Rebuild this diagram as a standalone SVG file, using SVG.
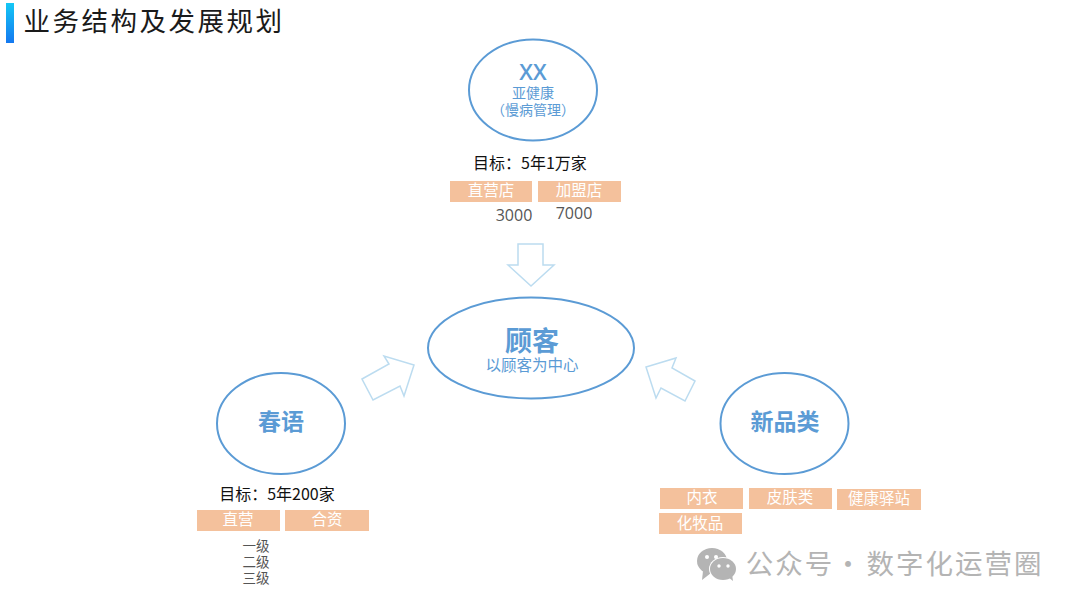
<svg xmlns="http://www.w3.org/2000/svg" width="1080" height="608" viewBox="0 0 1080 608">
<defs>
<linearGradient id="bar" x1="0" y1="0" x2="0" y2="1"><stop offset="0" stop-color="#14c8f5"/><stop offset="1" stop-color="#1478f0"/></linearGradient>
</defs>
<style>
text{font-family:"Noto Sans CJK SC","Liberation Sans",sans-serif;text-anchor:middle}
.el{fill:#fff;stroke:#5b9bd5;stroke-width:2}
.big{fill:#5b9bd5;font-weight:700;font-size:23px}
.sub{fill:#5b9bd5;font-size:14px}
.tag{fill:#f4c19c}
.tt{fill:#fff;font-size:15.500px}
.goal{fill:#111;font-size:16px}
.num{fill:#555;font-size:16px;font-family:"Open Sans","Liberation Sans",sans-serif}
.lv{fill:#555;font-size:13.500px}
.arr{fill:#fff;stroke:#bcdcf0;stroke-width:1.500}
.wm{fill:#b4b4b4}
</style>
<rect width="1080" height="608" fill="#fff"/>
<rect x="6" y="3" width="8" height="40" fill="url(#bar)"/>
<text x="154" y="31" font-size="26.500" letter-spacing="2.500" fill="#1a1a1a">业务结构及发展规划</text>
<g id="connectors">
<path class="arr" d="M518 244H543V265H554L531 286 508 265H518Z"/>
<path class="arr" d="M362 379L389 364 384 356 414 365 404 396 400 386 373 400Z"/>
<path class="arr" d="M695 381L672 368 676 358 646 367 656 398 661 388 685 401Z"/>
</g>
<g id="node-xx">
<ellipse class="el" cx="533" cy="90" rx="64" ry="50.500"/>
<text x="533" y="80" fill="#5b9bd5" font-size="22" font-weight="600" style="font-family:'Open Sans','Liberation Sans',sans-serif">XX</text>
<text class="sub" x="533" y="98">亚健康</text>
<text class="sub" x="533" y="115">（慢病管理）</text>
<text class="goal" x="530" y="169">目标：5年1万家</text>
<rect class="tag" x="450" y="181" width="82" height="21"/>
<rect class="tag" x="538" y="181" width="83" height="21"/>
<text class="tt" x="491" y="196">直营店</text>
<text class="tt" x="579" y="196">加盟店</text>
<text class="num" x="514" y="221">3000</text>
<text class="num" x="574" y="219">7000</text>
</g>
<g id="node-center">
<ellipse class="el" cx="531" cy="348" rx="103" ry="50.500"/>
<text x="532" y="351" fill="#5b9bd5" font-weight="700" font-size="27">顾客</text>
<text x="532" y="371" fill="#5b9bd5" font-size="15.500">以顾客为中心</text>
</g>
<g id="node-chunyu">
<ellipse class="el" cx="281" cy="423.500" rx="64" ry="50.500"/>
<text class="big" x="281" y="430">春语</text>
<text class="goal" x="277" y="500">目标：5年200家</text>
<rect class="tag" x="197" y="510" width="83" height="21"/>
<rect class="tag" x="285" y="510" width="84" height="21"/>
<text class="tt" x="238" y="525">直营</text>
<text class="tt" x="327" y="525">合资</text>
<text class="lv" x="256" y="551">一级</text>
<text class="lv" x="256" y="567">二级</text>
<text class="lv" x="256" y="583">三级</text>
</g>
<g id="node-new">
<ellipse class="el" cx="784.500" cy="423.500" rx="64" ry="50.500"/>
<text class="big" x="785" y="430">新品类</text>
<rect class="tag" x="660" y="488" width="83" height="21"/>
<rect class="tag" x="749" y="488" width="83" height="21"/>
<rect class="tag" x="837" y="489" width="84" height="21"/>
<rect class="tag" x="659" y="513" width="83" height="21"/>
<text class="tt" x="702" y="503">内衣</text>
<text class="tt" x="790" y="503">皮肤类</text>
<text class="tt" x="879" y="504">健康驿站</text>
<text class="tt" x="700" y="529">化牧品</text>
</g>
<g id="watermark">
<ellipse class="wm" cx="712" cy="561" rx="15" ry="13"/>
<path class="wm" d="M703 571L702 580 711 573Z"/>
<ellipse cx="723" cy="569" rx="14" ry="12" fill="#fff"/>
<ellipse class="wm" cx="723" cy="569" rx="13" ry="11"/>
<path class="wm" d="M728 577L733 581 732 574Z"/>
<circle cx="707" cy="557" r="2" fill="#fff"/><circle cx="716" cy="557" r="2" fill="#fff"/>
<circle cx="719" cy="566" r="1.700" fill="#fff"/><circle cx="728" cy="566" r="1.700" fill="#fff"/>
<text class="wm" x="790" y="574" font-size="27.500" letter-spacing="2">公众号</text>
<text class="wm" x="848" y="574" font-size="27.500">·</text>
<text class="wm" x="955" y="574" font-size="27.500" letter-spacing="2">数字化运营圈</text>
</g>
</svg>
